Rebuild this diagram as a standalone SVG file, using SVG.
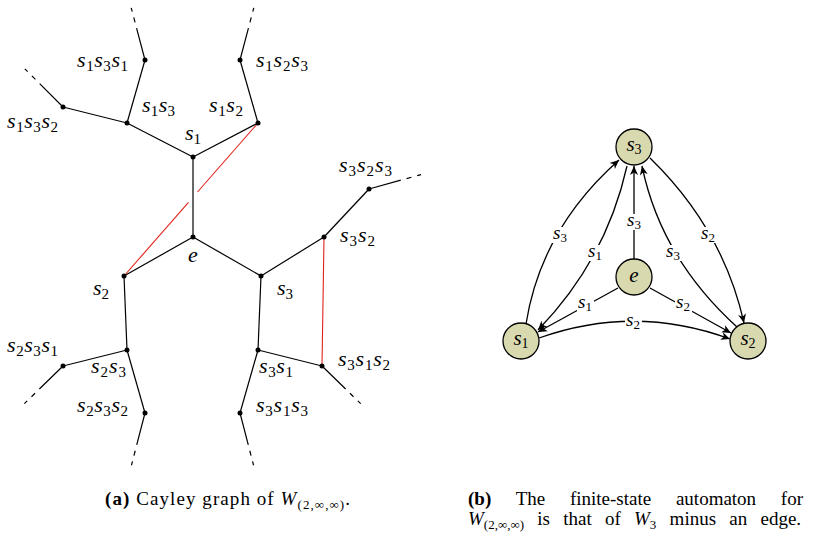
<svg xmlns="http://www.w3.org/2000/svg" width="813" height="543" viewBox="0 0 813 543">
<defs>
<style>
.ed{stroke:#000;stroke-width:1.2;fill:none}
.red{stroke:#e0241c;stroke-width:1.1;fill:none}
.dash{stroke:#000;stroke-width:1.2;fill:none;stroke-dasharray:33 6 5 6 4 60}
.dot{fill:#000}
.lb{font-size:22px;font-style:italic;fill:#000}
.sub{font-style:normal;font-size:15px}
.al{font-size:19px;font-style:italic;fill:#000;text-anchor:middle}
.asub{font-style:normal;font-size:13px}
.nl{font-size:21px;font-style:italic;fill:#000;text-anchor:middle}
.nsub{font-style:normal;font-size:14px}
.st{fill:#d9d9b0;stroke:#000;stroke-width:1.3}
.ae{stroke:#000;stroke-width:1.3;fill:none;marker-end:url(#arr)}
.bg{fill:#fff}
.cap{font-size:19px;fill:#000}
.it{font-style:italic}
.cs{font-size:13px}
</style>
<marker id="arr" viewBox="-10 -5 12 10" refX="0" refY="0" markerWidth="12" markerHeight="10" orient="auto" markerUnits="userSpaceOnUse">
<path d="M0,0 L-9,-4 L-6.5,0 L-9,4 Z" fill="#000"/>
</marker>
</defs>
<rect width="813" height="543" fill="#fff"/>
<g font-family="'Liberation Serif', 'DejaVu Serif', serif">

<g id="cayley-edges">
<line class="ed" x1="193" y1="237" x2="193" y2="157"/>
<line class="ed" x1="193" y1="157" x2="127" y2="123"/>
<line class="ed" x1="193" y1="157" x2="258" y2="123"/>
<line class="ed" x1="127" y1="123" x2="145" y2="60"/>
<line class="ed" x1="127" y1="123" x2="63" y2="107"/>
<line class="ed" x1="258" y1="123" x2="240" y2="60"/>
<line class="ed" x1="193" y1="237" x2="124" y2="276"/>
<line class="ed" x1="193" y1="237" x2="261" y2="276"/>
<line class="ed" x1="124" y1="276" x2="127" y2="350"/>
<line class="ed" x1="127" y1="350" x2="63" y2="366"/>
<line class="ed" x1="127" y1="350" x2="145" y2="413"/>
<line class="ed" x1="261" y1="276" x2="258" y2="350"/>
<line class="ed" x1="261" y1="276" x2="324" y2="237"/>
<line class="ed" x1="324" y1="237" x2="369" y2="189"/>
<line class="ed" x1="258" y1="350" x2="322" y2="366"/>
<line class="ed" x1="258" y1="350" x2="240" y2="413"/>
<line class="red" x1="258" y1="123" x2="197.5" y2="192"/>
<line class="red" x1="188.5" y1="202.3" x2="124" y2="276"/>
<line class="red" x1="324" y1="237" x2="322" y2="366"/>
<line class="dash" x1="145" y1="60" x2="131" y2="7"/>
<line class="dash" x1="240" y1="60" x2="254" y2="7"/>
<line class="dash" x1="63" y1="107" x2="24" y2="68"/>
<line class="dash" x1="369" y1="189" x2="423" y2="174"/>
<line class="dash" x1="63" y1="366" x2="24" y2="404"/>
<line class="dash" x1="145" y1="413" x2="131" y2="467"/>
<line class="dash" x1="240" y1="413" x2="254" y2="467"/>
<line class="dash" x1="322" y1="366" x2="361" y2="404"/>
</g>

<g id="n-e"><circle class="dot" cx="193" cy="237" r="2.5"/><text class="lb" x="188" y="262">e</text></g>
<g id="n-s1"><circle class="dot" cx="193" cy="157" r="2.5"/><text class="lb" x="185" y="140">s<tspan class="sub" dy="4">1</tspan></text></g>
<g id="n-s2"><circle class="dot" cx="124" cy="276" r="2.5"/><text class="lb" x="93" y="295">s<tspan class="sub" dy="4">2</tspan></text></g>
<g id="n-s3"><circle class="dot" cx="261" cy="276" r="2.5"/><text class="lb" x="277" y="295">s<tspan class="sub" dy="4">3</tspan></text></g>
<g id="n-s1s3"><circle class="dot" cx="127" cy="123" r="2.5"/><text class="lb" x="142" y="112" textLength="33" lengthAdjust="spacing">s<tspan class="sub" dy="4">1</tspan><tspan dy="-4">s</tspan><tspan class="sub" dy="4">3</tspan></text></g>
<g id="n-s1s2"><circle class="dot" cx="258" cy="123" r="2.5"/><text class="lb" x="209" y="112" textLength="34" lengthAdjust="spacing">s<tspan class="sub" dy="4">1</tspan><tspan dy="-4">s</tspan><tspan class="sub" dy="4">2</tspan></text></g>
<g id="n-s1s3s1"><circle class="dot" cx="145" cy="60" r="2.5"/><text class="lb" x="77" y="67" textLength="51" lengthAdjust="spacing">s<tspan class="sub" dy="4">1</tspan><tspan dy="-4">s</tspan><tspan class="sub" dy="4">3</tspan><tspan dy="-4">s</tspan><tspan class="sub" dy="4">1</tspan></text></g>
<g id="n-s1s3s2"><circle class="dot" cx="63" cy="107" r="2.5"/><text class="lb" x="7" y="128" textLength="51" lengthAdjust="spacing">s<tspan class="sub" dy="4">1</tspan><tspan dy="-4">s</tspan><tspan class="sub" dy="4">3</tspan><tspan dy="-4">s</tspan><tspan class="sub" dy="4">2</tspan></text></g>
<g id="n-s1s2s3"><circle class="dot" cx="240" cy="60" r="2.5"/><text class="lb" x="256" y="67" textLength="52" lengthAdjust="spacing">s<tspan class="sub" dy="4">1</tspan><tspan dy="-4">s</tspan><tspan class="sub" dy="4">2</tspan><tspan dy="-4">s</tspan><tspan class="sub" dy="4">3</tspan></text></g>
<g id="n-s3s2"><circle class="dot" cx="324" cy="237" r="2.5"/><text class="lb" x="340" y="242" textLength="35" lengthAdjust="spacing">s<tspan class="sub" dy="4">3</tspan><tspan dy="-4">s</tspan><tspan class="sub" dy="4">2</tspan></text></g>
<g id="n-s3s2s3"><circle class="dot" cx="369" cy="189" r="2.5"/><text class="lb" x="339" y="172" textLength="53" lengthAdjust="spacing">s<tspan class="sub" dy="4">3</tspan><tspan dy="-4">s</tspan><tspan class="sub" dy="4">2</tspan><tspan dy="-4">s</tspan><tspan class="sub" dy="4">3</tspan></text></g>
<g id="n-s2s3"><circle class="dot" cx="127" cy="350" r="2.5"/><text class="lb" x="91" y="373" textLength="35" lengthAdjust="spacing">s<tspan class="sub" dy="4">2</tspan><tspan dy="-4">s</tspan><tspan class="sub" dy="4">3</tspan></text></g>
<g id="n-s2s3s1"><circle class="dot" cx="63" cy="366" r="2.5"/><text class="lb" x="7" y="352" textLength="51" lengthAdjust="spacing">s<tspan class="sub" dy="4">2</tspan><tspan dy="-4">s</tspan><tspan class="sub" dy="4">3</tspan><tspan dy="-4">s</tspan><tspan class="sub" dy="4">1</tspan></text></g>
<g id="n-s2s3s2"><circle class="dot" cx="145" cy="413" r="2.5"/><text class="lb" x="77" y="412" textLength="51" lengthAdjust="spacing">s<tspan class="sub" dy="4">2</tspan><tspan dy="-4">s</tspan><tspan class="sub" dy="4">3</tspan><tspan dy="-4">s</tspan><tspan class="sub" dy="4">2</tspan></text></g>
<g id="n-s3s1"><circle class="dot" cx="258" cy="350" r="2.5"/><text class="lb" x="259" y="373" textLength="34" lengthAdjust="spacing">s<tspan class="sub" dy="4">3</tspan><tspan dy="-4">s</tspan><tspan class="sub" dy="4">1</tspan></text></g>
<g id="n-s3s1s2"><circle class="dot" cx="322" cy="366" r="2.5"/><text class="lb" x="338" y="366" textLength="52" lengthAdjust="spacing">s<tspan class="sub" dy="4">3</tspan><tspan dy="-4">s</tspan><tspan class="sub" dy="4">1</tspan><tspan dy="-4">s</tspan><tspan class="sub" dy="4">2</tspan></text></g>
<g id="n-s3s1s3"><circle class="dot" cx="240" cy="413" r="2.5"/><text class="lb" x="256" y="412" textLength="52" lengthAdjust="spacing">s<tspan class="sub" dy="4">3</tspan><tspan dy="-4">s</tspan><tspan class="sub" dy="4">1</tspan><tspan dy="-4">s</tspan><tspan class="sub" dy="4">3</tspan></text></g>

<g id="automaton-edges">
<path class="ae" d="M526,324 Q541,229 619,160"/>
<path class="ae" d="M627,166 Q606,260 538,330"/>
<path class="ae" d="M634,259 L634,166"/>
<path class="ae" d="M737,327 Q661,258 642,166"/>
<path class="ae" d="M650,158 Q723,229 744,323"/>
<path class="ae" d="M618,288 L538,332"/>
<path class="ae" d="M650,288 L731,333"/>
<path class="ae" d="M539,338 Q635,304 730,339"/>
<g id="edge-labels">
<rect class="bg" x="552" y="227" width="17" height="16"/><text class="al" x="560" y="239">s<tspan class="asub" dy="3">3</tspan></text>
<rect class="bg" x="587" y="245" width="17" height="16"/><text class="al" x="595" y="257">s<tspan class="asub" dy="3">1</tspan></text>
<rect class="bg" x="626" y="214" width="17" height="16"/><text class="al" x="634" y="226">s<tspan class="asub" dy="3">3</tspan></text>
<rect class="bg" x="665" y="245" width="17" height="16"/><text class="al" x="673" y="257">s<tspan class="asub" dy="3">3</tspan></text>
<rect class="bg" x="700" y="227" width="17" height="16"/><text class="al" x="708" y="239">s<tspan class="asub" dy="3">2</tspan></text>
<rect class="bg" x="577" y="296" width="17" height="16"/><text class="al" x="585" y="308">s<tspan class="asub" dy="3">1</tspan></text>
<rect class="bg" x="675" y="296" width="17" height="16"/><text class="al" x="683" y="308">s<tspan class="asub" dy="3">2</tspan></text>
<rect class="bg" x="625" y="314" width="17" height="16"/><text class="al" x="633" y="326">s<tspan class="asub" dy="3">2</tspan></text>
</g>
</g>
<g id="state-s3"><circle class="st" cx="634" cy="147" r="18"/><text class="nl" x="634" y="151">s<tspan class="nsub" dy="3">3</tspan></text></g>
<g id="state-e"><circle class="st" cx="634" cy="277" r="18"/><text class="nl" x="634" y="282">e</text></g>
<g id="state-s1"><circle class="st" cx="521" cy="341" r="18"/><text class="nl" x="521" y="345">s<tspan class="nsub" dy="3">1</tspan></text></g>
<g id="state-s2"><circle class="st" cx="748" cy="341" r="18"/><text class="nl" x="748" y="345">s<tspan class="nsub" dy="3">2</tspan></text></g>

<g id="captions">
<text class="cap" x="105" y="505" textLength="245" lengthAdjust="spacing"><tspan font-weight="bold">(a)</tspan> Cayley graph of <tspan class="it">W</tspan><tspan class="cs" dy="4">(2,∞,∞)</tspan><tspan dy="-4">.</tspan></text>
<text class="cap" x="468" y="505" word-spacing="20"><tspan font-weight="bold">(b)</tspan> The finite-state automaton for</text>
<text class="cap" x="468" y="525" word-spacing="8.5"><tspan class="it">W</tspan><tspan class="cs" dy="4">(2,∞,∞)</tspan><tspan dy="-4"> is that of </tspan><tspan class="it">W</tspan><tspan class="cs" dy="4">3</tspan><tspan dy="-4"> minus an edge.</tspan></text>
</g>
</g>
</svg>
